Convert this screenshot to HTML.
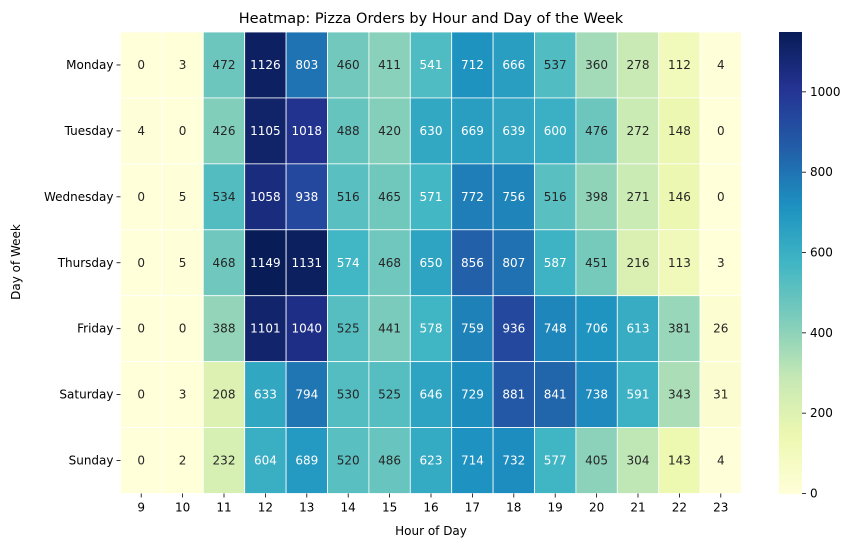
<!DOCTYPE html>
<html><head><meta charset="utf-8">
<style>
body{margin:0;background:#fff;font-family:"Liberation Sans","DejaVu Sans",sans-serif;}
svg text{font-family:"DejaVu Sans","Liberation Sans",sans-serif;}
</style></head>
<body>
<svg id="chart" width="856" height="547" xmlns="http://www.w3.org/2000/svg">
<text x="431" y="23" text-anchor="middle" font-size="14.5" fill="#000">Heatmap: Pizza Orders by Hour and Day of the Week</text>
<text x="431" y="535" text-anchor="middle" font-size="12" fill="#000">Hour of Day</text>
<text transform="translate(20,262) rotate(-90)" text-anchor="middle" font-size="12" fill="#000">Day of Week</text>
<g id="cells"></g><g id="xt"></g><g id="yt"></g><g id="cb"></g>
</svg>
<script>
const days=["Monday","Tuesday","Wednesday","Thursday","Friday","Saturday","Sunday"];
const hours=["9","10","11","12","13","14","15","16","17","18","19","20","21","22","23"];
const mon=[0,3,472,1126,803,460,411,541,712,666,537,360,278,112,4];
const tue=[4,0,426,1105,1018,488,420,630,669,639,600,476,272,148,0];
const wed=[0,5,534,1058,938,516,465,571,772,756,516,398,271,146,0];
const thu=[0,5,468,1149,1131,574,468,650,856,807,587,451,216,113,3];
const fri=[0,0,388,1101,1040,525,441,578,759,936,748,706,613,381,26];
const sat=[0,3,208,633,794,530,525,646,729,881,841,738,591,343,31];
const sun=[0,2,232,604,689,520,486,623,714,732,577,405,304,143,4];
const values=[mon,tue,wed,thu,fri,sat,sun];
const cbTicks=[0,200,400,600,800,1000];
const vmin=0,vmax=1149;
const whiteAbove=540;
const X0=120.5,X1=741.5,Y0=32,Y1=493.5;
const cw=(X1-X0)/hours.length,rh=(Y1-Y0)/days.length;
const xs=i=>X0+i*cw, ys=j=>Y0+j*rh;
const stops=["#ffffd9","#edf8b1","#c7e9b4","#7fcdbb","#41b6c4","#1d91c0","#225ea8","#253494","#081d58"];
function hx(h){return [1,3,5].map(k=>parseInt(h.substr(k,2),16));}
function cmap(v){let t=Math.max(0,Math.min(1,(v-vmin)/(vmax-vmin)))*(stops.length-1);let i=Math.min(Math.floor(t),stops.length-2),f=t-i;const a=hx(stops[i]),b=hx(stops[i+1]);return a.map((c,k)=>Math.round(c+(b[k]-c)*f));}
const NS="http://www.w3.org/2000/svg";
function el(t,a,p){const e=document.createElementNS(NS,t);for(const k in a)e.setAttribute(k,a[k]);p.appendChild(e);return e;}
const cells=document.getElementById('cells');
values.forEach((row,j)=>row.forEach((v,i)=>{
 const c=cmap(v);
 const r=el('rect',{x:xs(i),y:ys(j),width:cw,height:rh,fill:`rgb(${c})`,stroke:'#fff','stroke-width':0.8},cells);
 
 
 const t=el('text',{x:xs(i)+cw/2,y:ys(j)+rh/2+4,'text-anchor':'middle','font-size':12,fill:v>whiteAbove?'#fff':'#262626'},cells);
 
 
 t.textContent=v;
}));
const xt=document.getElementById('xt');
hours.forEach((h,i)=>{const x=xs(i)+cw/2;
 el('line',{x1:x,x2:x,y1:Y1,y2:Y1+4,stroke:'#000','stroke-width':0.8},xt);
 const t=el('text',{x:x,y:Y1+18,'text-anchor':'middle','font-size':12},xt);
 
 
 t.textContent=h;});
const yt=document.getElementById('yt');
days.forEach((d,j)=>{const y=ys(j)+rh/2;
 el('line',{x1:X0-4,x2:X0,y1:y,y2:y,stroke:'#000','stroke-width':0.8},yt);
 const t=el('text',{x:X0-7,y:y+4,'text-anchor':'end','font-size':12},yt);
 
 
 t.textContent=d;});
const cb=document.getElementById('cb');
const CX=779,CW=23,N=200;
for(let k=0;k<N;k++){const v0=vmin+(vmax-vmin)*k/N;const y=Y1-(Y1-Y0)*(k+1)/N;
 el('rect',{x:CX,y:y,width:CW,height:(Y1-Y0)/N+0.6,fill:`rgb(${cmap(v0+(vmax-vmin)/N/2)})`},cb);}
cbTicks.forEach(v=>{const y=Y1-(Y1-Y0)*(v-vmin)/(vmax-vmin);
 el('line',{x1:CX+CW,x2:CX+CW+4,y1:y,y2:y,stroke:'#000','stroke-width':0.8},cb);
 const t=el('text',{x:CX+CW+8,y:y+4,'font-size':12},cb);
 
 
 t.textContent=v;});
</script>
</body></html>
